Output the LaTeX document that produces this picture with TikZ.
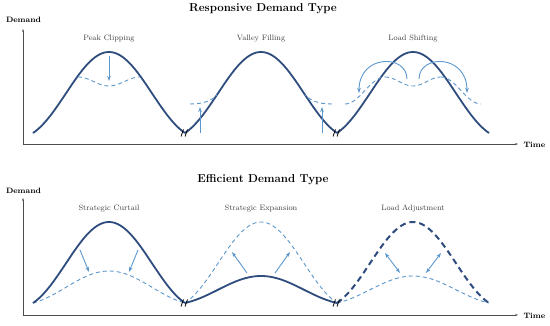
\documentclass[tikz,border=0pt]{standalone}
\usepackage{amsmath}
\usetikzlibrary{calc, arrows.meta}
\definecolor{navy}{HTML}{2E4C7E}
\definecolor{sky}{HTML}{5B97CC}

\begin{document}
\begin{tikzpicture}[x=1pt, y=1pt,
  declare function={hump(\t)=0.3*(1-cos(\t))+0.4*sin(\t/2);},
  load/.style={navy, line width=1.8pt, line join=round},
  shifted/.style={sky, line width=0.9pt, dash pattern=on 4pt off 3pt},
  move/.style={sky, line width=0.9pt, -{Stealth[length=5pt, width=3.5pt]}},
  both/.style={sky, line width=0.9pt, {Stealth[length=5pt, width=3.5pt]}-{Stealth[length=5pt, width=3.5pt]}},
  axis/.style={black!70, line width=0.6pt, -{Stealth[length=3pt, width=2.2pt]}},
  lbl/.style={font=\fontsize{7.8}{9}\selectfont, text=black!75},
  ttl/.style={font=\fontsize{11.5}{14}\selectfont\bfseries},
  ax/.style={font=\fontsize{7.8}{9}\selectfont\bfseries},
  brk/.pic={\draw[black, line width=0.8pt] (-4,-3.5) -- (-1.5,3.5) (0,-3.5) -- (2.5,3.5);}]
  \useasboundingbox (0,0) rectangle (550,326);

  % responsive demand: base 193, peak 274, troughs at 185 and 337
  \draw[axis] (23,182) -- (23,297);
  \draw[axis] (23,182) -- (518,182);
  \node[ax] (dem1) at (23.5,306) {Demand};
  \node[ax, anchor=west] (time1) at (520,181) {Time};
  \node[ttl] (title1) at (263,317) {Responsive Demand Type};
  \node[lbl] (peak) at (109,287) {Peak Clipping};
  \node[lbl] (valley) at (261,287) {Valley Filling};
  \node[lbl] (shift) at (413,287) {Load Shifting};

  \draw[load] plot[domain=0:360, samples=80] ({33+152*(\x/360)}, {193+81*hump(\x)})
              plot[domain=0:360, samples=80] ({185+152*(\x/360)}, {193+81*hump(\x)})
              plot[domain=0:360, samples=80] ({337+152*(\x/360)}, {193+81*hump(\x)});

  \draw[shifted] plot[domain=-180:180, samples=40] ({109+31*(\x/180)}, {244.5-4.5*cos(\x)});
  \draw[move] (109,270) -- (109,245);

  \draw[shifted] (190,222) .. controls (205,222) and (212,226) .. (217,231);
  \draw[shifted] (332,222) .. controls (317,222) and (310,226) .. (305,231);
  \draw[move] (200,193) -- (200,219);
  \draw[move] (322,193) -- (322,219);

  \draw[shifted] plot[domain=0:180, samples=25] ({345+40*(\x/180)}, {222+13.5*(1-cos(\x))})
                 plot[domain=0:360, samples=40] ({385+56*(\x/360)}, {244.5+4.5*cos(\x)})
                 plot[domain=0:180, samples=25] ({441+40*(\x/180)}, {222+13.5*(1+cos(\x))});
  \draw[move] (407,247) .. controls (407,272) and (359,272) .. (359,233);
  \draw[move] (419,247) .. controls (419,272) and (467,272) .. (467,233);

  \pic at (185,193) {brk};
  \pic at (337,193) {brk};

  % efficient demand: base 23, peak 104
  \draw[axis] (23,11) -- (23,128);
  \draw[axis] (23,11) -- (518,11);
  \node[ax] (dem2) at (23.5,135) {Demand};
  \node[ax, anchor=west] (time2) at (520,10) {Time};
  \node[ttl] (title2) at (263,146) {Efficient Demand Type};
  \node[lbl] (curtail) at (109,117) {Strategic Curtail};
  \node[lbl] (expand) at (261,117) {Strategic Expansion};
  \node[lbl] (adjust) at (413,117) {Load Adjustment};

  \draw[shifted] plot[domain=0:360, samples=80] ({33+152*(\x/360)}, {23+32*hump(\x)})
                 plot[domain=0:360, samples=80] ({185+152*(\x/360)}, {23+81*hump(\x)})
                 plot[domain=0:360, samples=80] ({337+152*(\x/360)}, {23+27*hump(\x)});
  \draw[load] plot[domain=0:360, samples=80] ({33+152*(\x/360)}, {23+81*hump(\x)})
              plot[domain=0:360, samples=80] ({185+152*(\x/360)}, {23+27*hump(\x)});
  \draw[navy, line width=2pt, dash pattern=on 6pt off 4pt]
        plot[domain=0:360, samples=80] ({337+152*(\x/360)}, {23+81*hump(\x)});

  \draw[move] (80,76) -- (89,54);
  \draw[move] (138,76) -- (129,54);
  \draw[move] (247,53) -- (232,74);
  \draw[move] (275,53) -- (290,74);
  \draw[both] (385,73) -- (400,53);
  \draw[both] (426,53) -- (441,73);

  \pic at (185,23) {brk};
  \pic at (337,23) {brk};
\end{tikzpicture}
\end{document}
